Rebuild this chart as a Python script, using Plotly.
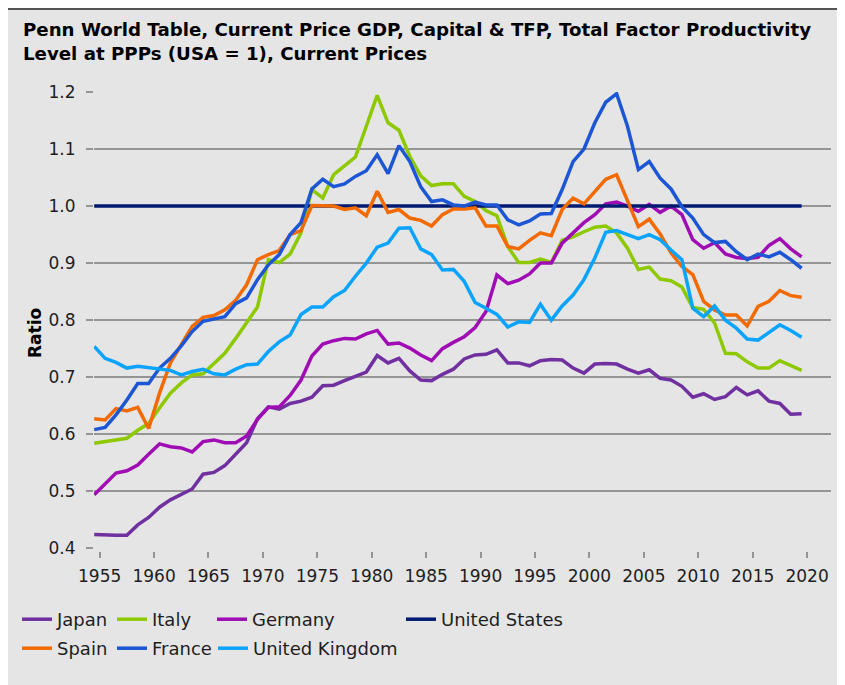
import plotly.graph_objects as go

# ---- data (Penn World Table TFP level at current PPPs, USA = 1) ----
years = list(range(1954, 2020))

japan = [0.424, 0.423, 0.423, 0.423, 0.441, 0.454, 0.472, 0.485, 0.495, 0.504,
         0.530, 0.533, 0.545, 0.564, 0.585, 0.627, 0.648, 0.644, 0.654, 0.658,
         0.665, 0.685, 0.686, 0.694, 0.701, 0.709, 0.738, 0.725, 0.733, 0.711,
         0.695, 0.694, 0.705, 0.714, 0.732, 0.739, 0.740, 0.748, 0.725, 0.725,
         0.720, 0.729, 0.731, 0.730, 0.716, 0.707, 0.723, 0.724, 0.723, 0.714,
         0.707, 0.713, 0.698, 0.695, 0.684, 0.665, 0.671, 0.661, 0.666, 0.682,
         0.669, 0.676, 0.658, 0.654, 0.635, 0.636]

italy = [0.584, 0.587, 0.590, 0.593, 0.607, 0.619, 0.646, 0.672, 0.690, 0.704,
         0.706, 0.725, 0.742, 0.768, 0.795, 0.823, 0.906, 0.901, 0.916, 0.953,
         1.029, 1.014, 1.055, 1.071, 1.086, 1.140, 1.194, 1.146, 1.133, 1.087,
         1.053, 1.036, 1.039, 1.039, 1.017, 1.008, 0.992, 0.983, 0.929, 0.901,
         0.901, 0.907, 0.901, 0.940, 0.946, 0.955, 0.963, 0.965, 0.953, 0.926,
         0.889, 0.893, 0.872, 0.869, 0.858, 0.822, 0.819, 0.795, 0.742, 0.741,
         0.727, 0.716, 0.716, 0.729, 0.720, 0.712]

germany = [0.494, 0.514, 0.532, 0.536, 0.546, 0.565, 0.583, 0.578, 0.576, 0.569,
           0.587, 0.590, 0.585, 0.585, 0.597, 0.626, 0.647, 0.648, 0.668, 0.695,
           0.737, 0.758, 0.764, 0.768, 0.767, 0.776, 0.782, 0.758, 0.760, 0.751,
           0.739, 0.729, 0.750, 0.761, 0.771, 0.787, 0.815, 0.879, 0.864, 0.870,
           0.881, 0.900, 0.900, 0.935, 0.953, 0.971, 0.985, 1.004, 1.007, 1.000,
           0.991, 1.003, 0.989, 1.000, 0.985, 0.941, 0.926, 0.936, 0.916, 0.910,
           0.908, 0.910, 0.931, 0.943, 0.925, 0.911]

united_states = [1.0] * 66

spain = [0.627, 0.625, 0.645, 0.641, 0.647, 0.610, 0.672, 0.725, 0.757, 0.789,
         0.805, 0.808, 0.818, 0.835, 0.862, 0.906, 0.915, 0.922, 0.950, 0.957,
         1.001, 1.001, 1.000, 0.994, 0.997, 0.983, 1.026, 0.989, 0.994, 0.979,
         0.975, 0.965, 0.985, 0.995, 0.995, 0.997, 0.965, 0.965, 0.929, 0.925,
         0.940, 0.953, 0.948, 0.994, 1.014, 1.004, 1.026, 1.047, 1.055, 1.010,
         0.964, 0.977, 0.951, 0.918, 0.894, 0.880, 0.833, 0.818, 0.809, 0.809,
         0.790, 0.824, 0.833, 0.852, 0.843, 0.840]

france = [0.608, 0.612, 0.634, 0.660, 0.689, 0.689, 0.716, 0.733, 0.755, 0.780,
          0.798, 0.802, 0.806, 0.829, 0.839, 0.871, 0.897, 0.915, 0.950, 0.971,
          1.030, 1.047, 1.034, 1.039, 1.052, 1.062, 1.090, 1.057, 1.106, 1.078,
          1.034, 1.008, 1.011, 1.002, 1.000, 1.007, 1.002, 1.002, 0.976, 0.967,
          0.974, 0.986, 0.987, 1.029, 1.078, 1.100, 1.146, 1.182, 1.197, 1.140,
          1.064, 1.078, 1.049, 1.030, 0.999, 0.979, 0.950, 0.936, 0.938, 0.920,
          0.906, 0.916, 0.911, 0.919, 0.906, 0.891]

united_kingdom = [0.754, 0.733, 0.726, 0.716, 0.719, 0.717, 0.714, 0.712, 0.704, 0.710,
                  0.714, 0.706, 0.704, 0.714, 0.722, 0.723, 0.745, 0.762, 0.774, 0.810,
                  0.823, 0.823, 0.841, 0.852, 0.877, 0.900, 0.928, 0.935, 0.961, 0.962,
                  0.925, 0.915, 0.888, 0.889, 0.868, 0.831, 0.821, 0.810, 0.788, 0.797,
                  0.796, 0.828, 0.800, 0.825, 0.844, 0.871, 0.909, 0.954, 0.957, 0.950,
                  0.943, 0.950, 0.941, 0.923, 0.906, 0.821, 0.806, 0.825, 0.800, 0.786,
                  0.767, 0.765, 0.778, 0.792, 0.782, 0.770]

x_tick_years = [1955, 1960, 1965, 1970, 1975, 1980, 1985, 1990, 1995, 2000,
                2005, 2010, 2015, 2020]
y_ticks = [0.4, 0.5, 0.6, 0.7, 0.8, 0.9, 1.0, 1.1, 1.2]

title_text = ("Penn World Table, Current Price GDP, Capital & TFP, Total Factor Productivity"
              "<br>Level at PPPs (USA = 1), Current Prices")

# ---- styling ----
BG = "#e5e5e5"
GRID = "#959595"
FONT = "DejaVu Sans"
W, H = 837, 677   # page body keeps its default 8px margin

series = [
    # name, values, colour, legend, legendwidth
    ("Japan", japan, "#7030a0", "legend", 50),
    ("Italy", italy, "#8ec900", "legend", 55),
    ("Germany", germany, "#a00cb4", "legend", 144),
    ("United States", united_states, "#001a72", "legend", None),
    ("Spain", spain, "#f26a00", "legend2", 50),
    ("France", france, "#1c56d4", "legend2", 56),
    ("United Kingdom", united_kingdom, "#0aa4ff", "legend2", None),
]

# annual observations are plotted at mid-year
x_mid = [y + 0.5 for y in years]

fig = go.Figure()
for name, vals, col, leg, lw in series:
    kw = dict(legendwidth=lw) if lw else {}
    fig.add_trace(go.Scatter(
        x=x_mid, y=vals, name=name, mode="lines",
        line=dict(color=col, width=3.5),
        legend=leg, **kw))

plot_left, plot_right = 86, 823
plot_top, plot_bottom_axis, paper_bottom = 84, 540.3, 543
paper_h = paper_bottom - plot_top
paper_w = plot_right - plot_left

fig.update_layout(
    width=W, height=H,
    margin=dict(l=plot_left, r=W - plot_right, t=plot_top, b=H - paper_bottom),
    paper_bgcolor=BG, plot_bgcolor=BG,
    font=dict(family=FONT, size=17, color="#1e1e1e"),
    title=dict(text="<b>" + title_text + "</b>",
               font=dict(family=FONT, size=18.2, color="#000000"),
               xref="container", yref="container",
               x=15 / W, xanchor="left", y=1 - 28 / H, yanchor="middle"),
    xaxis=dict(range=[1954.48, 2022.2], tickvals=x_tick_years,
               ticks="outside", ticklen=6, tickwidth=1.5, tickcolor=GRID,
               showgrid=False, zeroline=False, showline=False,
               anchor="free", position=0, ticklabelstandoff=4,
               tickfont=dict(size=17, color="#1e1e1e")),
    yaxis=dict(range=[0.4, 1.2], tickvals=y_ticks, tickformat=".1f",
               domain=[(paper_bottom - plot_bottom_axis) / paper_h, 1],
               ticks="outside", ticklen=7, tickwidth=1.5, tickcolor=GRID,
               showgrid=True, gridcolor=GRID, gridwidth=1.5,
               zeroline=False, showline=False, ticklabelstandoff=7,
               tickfont=dict(size=17, color="#1e1e1e")),
    legend=dict(orientation="h", xref="container", yref="container",
                x=9 / W, xanchor="left", y=1 - 593 / H, yanchor="top",
                bgcolor="rgba(0,0,0,0)", font=dict(size=18, color="#1e1e1e"),
                traceorder="normal"),
    legend2=dict(orientation="h", xref="container", yref="container",
                 x=9 / W, xanchor="left", y=1 - 622 / H, yanchor="top",
                 bgcolor="rgba(0,0,0,0)", font=dict(size=18, color="#1e1e1e"),
                 traceorder="normal"),
    annotations=[dict(text="<b>Ratio</b>", textangle=-90, showarrow=False,
                      xref="paper", yref="paper",
                      x=(27 - plot_left) / paper_w, y=(paper_bottom - 325) / paper_h,
                      xanchor="center", yanchor="middle",
                      font=dict(family=FONT, size=17, color="#000000"))],
    shapes=[
        # dark rule along the top edge
        dict(type="line", xref="paper", yref="paper", layer="above",
             x0=-plot_left / paper_w, x1=(W - plot_left) / paper_w,
             y0=(paper_bottom - 1) / paper_h, y1=(paper_bottom - 1) / paper_h,
             line=dict(color="#555555", width=2)),
    ],
    showlegend=True,
)

fig.write_html("out.html")
